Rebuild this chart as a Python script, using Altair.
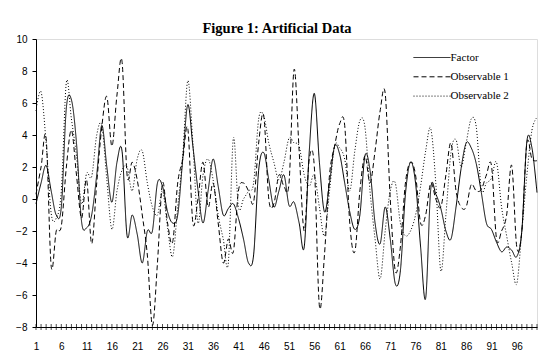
import altair as alt
import pandas as pd

title_text = "Figure 1: Artificial Data"

factor = [-0.3, 1.0, 2.1, 0.5, -1.0, -0.5, 5.7, 6.2, 3.5, -1.4,
          -1.8, -1.0, 1.5, 4.6, 2.0, -0.2, 2.3, 3.0, -2.3, -1.0,
          -2.2, -4.0, -2.0, -2.0, 1.0, 0.8, -0.8, -1.5, -1.0, 2.5,
          5.9, 3.3, 0.6, -1.5, 0.5, 2.5, 0.8, -1.0, -0.6, -0.3,
          -1.2, -2.5, -4.0, -3.5, 1.8, 2.9, 1.2, -0.5, 0.5, 1.5,
          -0.4, -0.2, -1.5, -3.0, 3.0, 6.6, 2.3, -0.8, 1.0, 3.3,
          2.8, 1.0, -0.8, -1.9, -1.0, 2.7, 1.8, -1.5, -2.8, -0.5,
          -2.5, -5.3, -4.5, 0.3, 2.3, 1.0, -3.0, -6.2, 0.6, 0.3,
          -0.6, -2.0, -2.5, -0.5, 1.9, 3.5, 3.2, 2.2, 0.4, -1.5,
          -1.9, -2.7, -3.3, -3.0, -3.2, -3.6, -2.0, 3.6, 3.2, 0.4]

observable1 = [0.3, 2.0, 3.8, -4.2, -2.0, -1.7, 2.0, 4.3, 1.5, -1.2,
               1.2, -2.8, 1.0, 4.5, 6.4, 3.3, 6.5, 8.6, 1.5, 2.3,
               1.2, -1.0, -3.5, -7.9, -4.0, 1.0, -1.5, -2.7, 1.0, 2.5,
               4.4, -1.5, 0.0, 2.3, -0.5, 1.0, -1.5, -4.0, -2.5, -3.3,
               0.5, 1.0, 0.5, -0.2, 3.5, 5.2, 0.0, -0.3, 1.5, 0.8,
               1.0, 8.1, 3.0, -2.0, 2.5, 2.0, -6.7, -3.5, 1.5, 3.3,
               4.7, 4.6, -1.5, -3.3, 0.5, 2.7, 1.0, 3.0, 5.5, 6.6,
               0.0, -4.5, -3.0, 1.0, 2.3, 1.5, -1.5, -1.0, 1.0, 0.0,
               -0.5, 1.5, 3.5, 0.5, -0.5, -0.5, 0.9, 0.5, 0.6, 1.5,
               2.1, -2.5, -2.0, -1.0, 2.1, -3.0, -2.0, 3.5, 2.5, 2.4]

observable2 = [5.5, 6.7, 3.5, -0.9, -1.2, 0.5, 7.3, 5.0, 2.7, -0.3,
               1.6, 1.4, 4.0, 4.6, 1.2, -1.9, 0.5, 1.8, 2.0, 0.5,
               2.5, 3.0, 1.0, -0.5, -1.0, 0.5, -1.8, -3.6, -0.5, 2.7,
               7.4, 3.5, -1.5, 1.5, 2.5, 1.2, -1.0, -2.5, -4.0, 3.8,
               -0.5, 0.0, 0.5, 1.0, 5.0, 5.2, 3.5, 2.3, 1.2, 2.3,
               3.8, 3.5, 3.3, 1.5, 0.8, 1.5, -0.5, -2.3, 0.5, 3.3,
               3.2, 2.5, 0.5, 3.0, 4.9, 4.5, 0.5, -2.5, -5.0, -2.0,
               0.5, 1.0, -1.5, -2.3, -2.0, -1.0, 0.8, 3.0, 4.4, 1.0,
               -4.5, -1.0, 2.9, 3.7, 2.0, 3.5, 5.0, 4.5, 0.6, 1.0,
               1.3, 2.3, -0.5, -2.3, -4.0, -5.3, -2.0, 1.5, 4.3, 5.1]

series_names = ["Factor", "Observable 1", "Observable 2"]
x_labels = [1, 6, 11, 16, 21, 26, 31, 36, 41, 46, 51, 56, 61, 66, 71, 76, 81, 86, 91, 96]
y_ticks = [-8, -6, -4, -2, 0, 2, 4, 6, 8, 10]

t = list(range(1, len(factor) + 1))
rows = []
for name, vals in zip(series_names, [factor, observable1, observable2]):
    for i, v in zip(t, vals):
        rows.append({"t": i, "v": v, "series": name})
df = pd.DataFrame(rows)
tick_df = pd.DataFrame({"t": t, "base": [min(y_ticks)] * len(t)})
title_df = pd.DataFrame({"title": [title_text]})

xscale = alt.Scale(domain=[1, 100], nice=False, zero=False)
yscale = alt.Scale(domain=[-8, 10], nice=False, zero=False)

x_axis = alt.Axis(values=x_labels, title=None, ticks=False, grid=False, format="d",
                  labelPadding=14, labelFont="Liberation Sans", labelFontSize=10,
                  labelColor="black", domainColor="black", labelOverlap=False,
                  labelFlush=False, labelBound=False)
y_axis = alt.Axis(values=y_ticks, title=None, grid=False, tickSize=4, tickColor="black",
                  labelPadding=5, labelFont="Liberation Sans", labelFontSize=10,
                  labelColor="black", domainColor="black", labelOverlap=False,
                  labelFlush=False, labelBound=False)

lines = alt.Chart(df).mark_line(interpolate="cardinal", color="black", strokeWidth=1).encode(
    x=alt.X("t:Q", scale=xscale, axis=x_axis),
    y=alt.Y("v:Q", scale=yscale, axis=y_axis),
    strokeDash=alt.StrokeDash("series:N",
                              scale=alt.Scale(domain=series_names, range=[[1, 0], [5, 3], [1, 2]]),
                              legend=alt.Legend(title=None, orient="none", legendX=385.5, legendY=8,
                                                symbolType="M-1.85,0H1.85", symbolSize=400,
                                                symbolStrokeWidth=1, symbolStrokeColor="black",
                                                labelFont="Liberation Serif", labelFontSize=11,
                                                labelColor="black", labelOffset=8, rowPadding=3.3,
                                                padding=0)),
)

ticks = alt.Chart(tick_df).mark_tick(orient="vertical", color="black", size=6, thickness=1).encode(
    x=alt.X("t:Q", scale=xscale, axis=x_axis),
    y=alt.Y("base:Q", scale=yscale, axis=y_axis),
)

title = alt.Chart(title_df).mark_text(font="Liberation Serif", fontSize=14.5, fontWeight="bold",
                                      color="black", align="center", baseline="alphabetic").encode(
    text="title:N",
    x=alt.value(241),
    y=alt.value(-6),
)

chart = alt.layer(lines, ticks, title).properties(
    width=501, height=288,
    autosize=alt.AutoSizeParams(type="none"),
    padding={"left": 28, "top": 31, "right": 8, "bottom": 24},
).configure_view(stroke="#555555", strokeWidth=1).configure(background="white")

chart.save("out.html", embed_options={"renderer": "svg", "actions": False})
